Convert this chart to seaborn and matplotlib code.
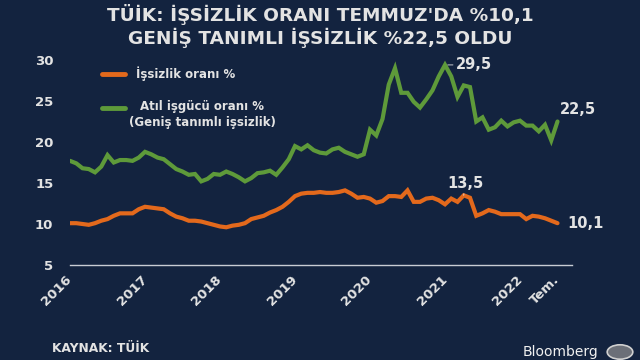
import numpy as np
import pandas as pd
import matplotlib
matplotlib.use("Agg")
import matplotlib.pyplot as plt
from matplotlib.lines import Line2D
from matplotlib.patches import Circle
import seaborn as sns

# ---- data (monthly, Jan 2016 - Jul 2022) ----
months = pd.date_range("2016-01-01", "2022-07-01", freq="MS")
unemployment = [
    10.1, 10.1, 10.0, 9.9, 10.1, 10.4, 10.6, 11.0, 11.3, 11.3, 11.3, 11.8,
    12.1, 12.0, 11.9, 11.8, 11.3, 10.9, 10.7, 10.4, 10.4, 10.3, 10.1, 9.9,
    9.7, 9.6, 9.8, 9.9, 10.1, 10.6, 10.8, 11.0, 11.4, 11.7, 12.1, 12.7,
    13.4, 13.7, 13.8, 13.8, 13.9, 13.8, 13.8, 13.9, 14.1, 13.7, 13.2, 13.3,
    13.1, 12.6, 12.8, 13.4, 13.4, 13.3, 14.1, 12.7, 12.7, 13.1, 13.2, 12.9,
    12.4, 13.1, 12.7, 13.5, 13.2, 11.0, 11.3, 11.7, 11.5, 11.2, 11.2, 11.2,
    11.2, 10.6, 11.0, 10.9, 10.7, 10.4, 10.1,
]
broad = [
    17.7, 17.4, 16.8, 16.7, 16.3, 17.0, 18.4, 17.5, 17.8, 17.8, 17.7, 18.1,
    18.8, 18.5, 18.1, 17.9, 17.3, 16.7, 16.4, 16.0, 16.1, 15.2, 15.5, 16.1,
    16.0, 16.4, 16.1, 15.7, 15.2, 15.6, 16.2, 16.3, 16.5, 16.0, 16.9, 17.9,
    19.5, 19.1, 19.6, 19.0, 18.7, 18.6, 19.1, 19.3, 18.8, 18.5, 18.2, 18.5,
    21.5, 20.8, 22.8, 27.0, 29.0, 26.0, 26.0, 24.9, 24.2, 25.2, 26.3, 28.0,
    29.4, 28.0, 25.5, 26.9, 26.7, 22.5, 23.0, 21.5, 21.8, 22.6, 21.9, 22.4,
    22.6, 22.0, 22.0, 21.3, 22.1, 20.2, 22.5,
]
x_tick_labels = ["2016", "2017", "2018", "2019", "2020", "2021", "2022", "Tem."]
y_ticks = [5, 10, 15, 20, 25, 30]
label_unemp = "İşsizlik oranı %"
label_broad = "Atıl işgücü oranı %\n(Geniş tanımlı işsizlik)"
title = "TÜİK: İŞSİZLİK ORANI TEMMUZ'DA %10,1\nGENİŞ TANIMLI İŞSİZLİK %22,5 OLDU"

BG = "#13233f"
TXT = "#e3e3e3"
ORANGE = "#e3691c"
GREEN = "#5e9a3a"

sns.set_theme(style="dark")
plt.rcParams["font.family"] = ["DejaVu Sans"]

df = pd.DataFrame({
    "idx": np.arange(len(months)),
    "unemp": unemployment,
    "broad": broad,
})

fig = plt.figure(figsize=(6.4, 3.6), dpi=100, facecolor=BG)
ax = fig.add_axes([70 / 640, 1 - 265 / 360, (572 - 70) / 640, (265 - 55) / 360])
ax.set_facecolor(BG)

sns.lineplot(data=df, x="idx", y="broad", ax=ax, color=GREEN, linewidth=3.0,
             solid_joinstyle="miter")
sns.lineplot(data=df, x="idx", y="unemp", ax=ax, color=ORANGE, linewidth=3.0,
             solid_joinstyle="miter")

ax.set_xlim(0, (572 - 70) / 6.25)
ax.set_ylim(5, 5 + 210 / 8.2)
ax.set_xlabel("")
ax.set_ylabel("")
ax.grid(False)
for s in ["top", "right", "left"]:
    ax.spines[s].set_visible(False)
ax.spines["bottom"].set_color("#c8ccd4")
ax.spines["bottom"].set_linewidth(1.0)

xt = [0, 12, 24, 36, 48, 60, 72, 78]
ax.set_xticks(xt)
ax.set_xticklabels(x_tick_labels, rotation=45, ha="right", va="center",
                   rotation_mode="anchor", fontsize=9.5, fontweight="bold", color=TXT)
ax.set_yticks(y_ticks)
ax.set_yticklabels([str(v) for v in y_ticks], fontsize=9.5, fontweight="bold", color=TXT)
ax.tick_params(axis="x", length=0, pad=9)
ax.tick_params(axis="y", length=0, pad=12)

# annotations
n = len(months) - 1
pk_b = int(np.argmax(broad))
pk_u = int(np.argmax(unemployment[55:])) + 55
ax.annotate("29,5", xy=(pk_b, broad[pk_b]), xytext=(pk_b + 1.8, broad[pk_b]),
            color=TXT, fontsize=10.5, fontweight="bold", va="center", ha="left",
            arrowprops=dict(arrowstyle="-", color=TXT, lw=0.6, shrinkA=0, shrinkB=2))
ax.annotate("22,5", xy=(n, broad[n]), xytext=(n + 0.4, broad[n] + 1.5),
            color=TXT, fontsize=10.5, fontweight="bold", va="center", ha="left")
ax.annotate("13,5", xy=(pk_u, unemployment[pk_u]), xytext=(pk_u - 2.7, unemployment[pk_u] + 1.5),
            color=TXT, fontsize=10.5, fontweight="bold", va="center", ha="left",
            arrowprops=dict(arrowstyle="-", color=TXT, lw=0.6, shrinkA=0, shrinkB=2))
ax.annotate("10,1", xy=(n, unemployment[n]), xytext=(n + 1.5, unemployment[n]),
            color=TXT, fontsize=10.5, fontweight="bold", va="center", ha="left")

# legend (manual)
def fx(px):
    return px / 640
def fy(py):
    return 1 - py / 360

fig.add_artist(Line2D([fx(102), fx(125)], [fy(74), fy(74)], color=ORANGE, lw=3.5,
                      solid_capstyle="round"))
fig.text(fx(136), fy(74), label_unemp, color=TXT, fontsize=8.5, fontweight="bold",
         va="center", ha="left")
fig.add_artist(Line2D([fx(102), fx(125)], [fy(108), fy(108)], color=GREEN, lw=3.5,
                      solid_capstyle="round"))
fig.text(fx(202), fy(114.5), label_broad, color=TXT, fontsize=8.5, fontweight="bold",
         va="center", ha="center", multialignment="center", linespacing=1.25)

# title
fig.text(0.5, fy(26), title, color=TXT, fontsize=13.3, fontweight="bold",
         ha="center", va="center", linespacing=1.15)

# footer
fig.text(fx(52), fy(348), "KAYNAK: TÜİK", color=TXT, fontsize=8.8, fontweight="bold",
         ha="left", va="center")
fig.text(fx(598), fy(352), "Bloomberg", color="#f0f0f0", fontsize=10,
         ha="right", va="center")
fig.add_artist(Circle((fx(620), fy(352)), 0.02, transform=fig.transFigure,
                      facecolor="#6b6f78", edgecolor="#d0d0d0", lw=1.2))

fig.savefig("out.png", dpi=100, facecolor=BG)
